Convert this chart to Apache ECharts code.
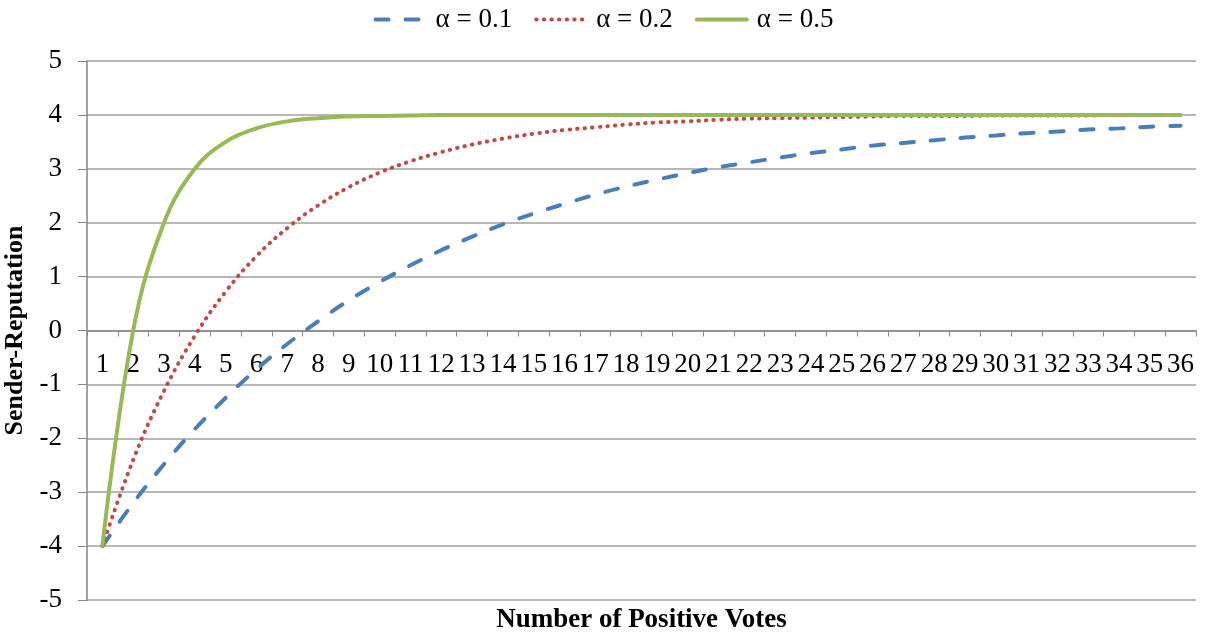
<!DOCTYPE html>
<html>
<head>
<meta charset="utf-8">
<script src="https://cdn.jsdelivr.net/npm/echarts@6/dist/echarts.min.js"></script>
<style>
html,body{margin:0;padding:0;background:#fff;}
#chart{width:1207px;height:636px;}
</style>
</head>
<body>
<div id="chart"></div>
<script>
const categories = ['1','2','3','4','5','6','7','8','9','10','11','12','13','14','15','16','17','18','19','20','21','22','23','24','25','26','27','28','29','30','31','32','33','34','35','36'];
const seriesNames = ['α = 0.1', 'α = 0.2', 'α = 0.5'];
const alpha01 = [-4.00,-3.20,-2.48,-1.83,-1.25,-0.72,-0.25,0.17,0.56,0.90,1.21,1.49,1.74,1.97,2.17,2.35,2.52,2.67,2.80,2.92,3.03,3.12,3.21,3.29,3.36,3.43,3.48,3.53,3.58,3.62,3.66,3.69,3.73,3.75,3.78,3.80];
const alpha02 = [-4.00,-2.40,-1.12,-0.10,0.72,1.38,1.90,2.32,2.66,2.93,3.14,3.31,3.45,3.56,3.65,3.72,3.77,3.82,3.86,3.88,3.91,3.93,3.94,3.95,3.96,3.97,3.98,3.98,3.98,3.99,3.99,3.99,3.99,4.00,4.00,4.00];
const alpha05 = [-4.00,0.00,2.00,3.00,3.50,3.75,3.88,3.94,3.97,3.98,3.99,4.00,4.00,4.00,4.00,4.00,4.00,4.00,4.00,4.00,4.00,4.00,4.00,4.00,4.00,4.00,4.00,4.00,4.00,4.00,4.00,4.00,4.00,4.00,4.00,4.00];
const yTicks = {min: -5, max: 5, interval: 1};
const xAxisTitle = 'Number of Positive Votes';
const yAxisTitle = 'Sender-Reputation';

const FONT = '"Liberation Serif", "Times New Roman", serif';
const W = 1207, H = 636;
const G = {left: 87, right: 11, top: 61, bottom: 36};
const plotH = H - G.top - G.bottom;
// place the category axis on the value 0 line
const zeroOffset = -plotH * (0 - yTicks.min) / (yTicks.max - yTicks.min);

const chart = echarts.init(document.getElementById('chart'), null, {renderer: 'canvas'});
chart.setOption({
  animation: false,
  backgroundColor: '#ffffff',
  textStyle: {fontFamily: FONT},
  legend: {
    top: 1,
    left: 'center',
    itemWidth: 50,
    itemHeight: 14,
    itemGap: 22,
    itemStyle: {opacity: 0},
    lineStyle: {width: 'inherit', type: 'inherit'},
    textStyle: {fontFamily: FONT, fontSize: 27, color: '#000', padding: [0, 0, 0, 5]},
    data: seriesNames
  },
  grid: Object.assign({containLabel: false, outerBoundsMode: 'none'}, G),
  graphic: [{
    type: 'text',
    style: {
      text: xAxisTitle,
      x: G.left + (W - G.left - G.right) / 2,
      y: 620,
      textAlign: 'center',
      textVerticalAlign: 'middle',
      font: 'bold 27px ' + FONT,
      fill: '#000'
    }
  }],
  xAxis: {
    type: 'category',
    data: categories,
    boundaryGap: true,
    position: 'bottom',
    offset: zeroOffset,
    axisLine: {onZero: false, lineStyle: {color: '#868686', width: 1.5}},
    axisTick: {show: true, interval: 0, length: 6, inside: false, lineStyle: {color: '#868686'}},
    axisLabel: {interval: 0, hideOverlap: false, margin: 21, fontFamily: FONT, fontSize: 27, color: '#000'},
    splitLine: {show: false}
  },
  yAxis: {
    type: 'value',
    min: yTicks.min,
    max: yTicks.max,
    interval: yTicks.interval,
    name: yAxisTitle,
    nameLocation: 'middle',
    nameGap: 56,
    nameTextStyle: {fontFamily: FONT, fontSize: 26, fontWeight: 'bold', color: '#000'},
    axisLine: {show: true, onZero: false, lineStyle: {color: '#868686', width: 1.5}},
    axisTick: {show: true, length: 9, inside: false, lineStyle: {color: '#868686'}},
    axisLabel: {margin: 25, fontFamily: FONT, fontSize: 27, color: '#000'},
    splitLine: {show: true, lineStyle: {color: '#A0A0A0', width: 1.5}}
  },
  series: [
    {
      name: seriesNames[0], type: 'line', data: alpha01, smooth: 0.4, symbol: 'none',
      color: '#4A7EBB',
      lineStyle: {color: '#4A7EBB', width: 4, type: [13, 17], cap: 'round'}
    },
    {
      name: seriesNames[1], type: 'line', data: alpha02, smooth: 0.4, symbol: 'none',
      color: '#BE4B48',
      lineStyle: {color: '#BE4B48', width: 4, type: [0.5, 7.1], cap: 'round'}
    },
    {
      name: seriesNames[2], type: 'line', data: alpha05, smooth: 0.4, symbol: 'none',
      color: '#98B954',
      lineStyle: {color: '#98B954', width: 4, type: 'solid', cap: 'round'}
    }
  ]
});
</script>
</body>
</html>
